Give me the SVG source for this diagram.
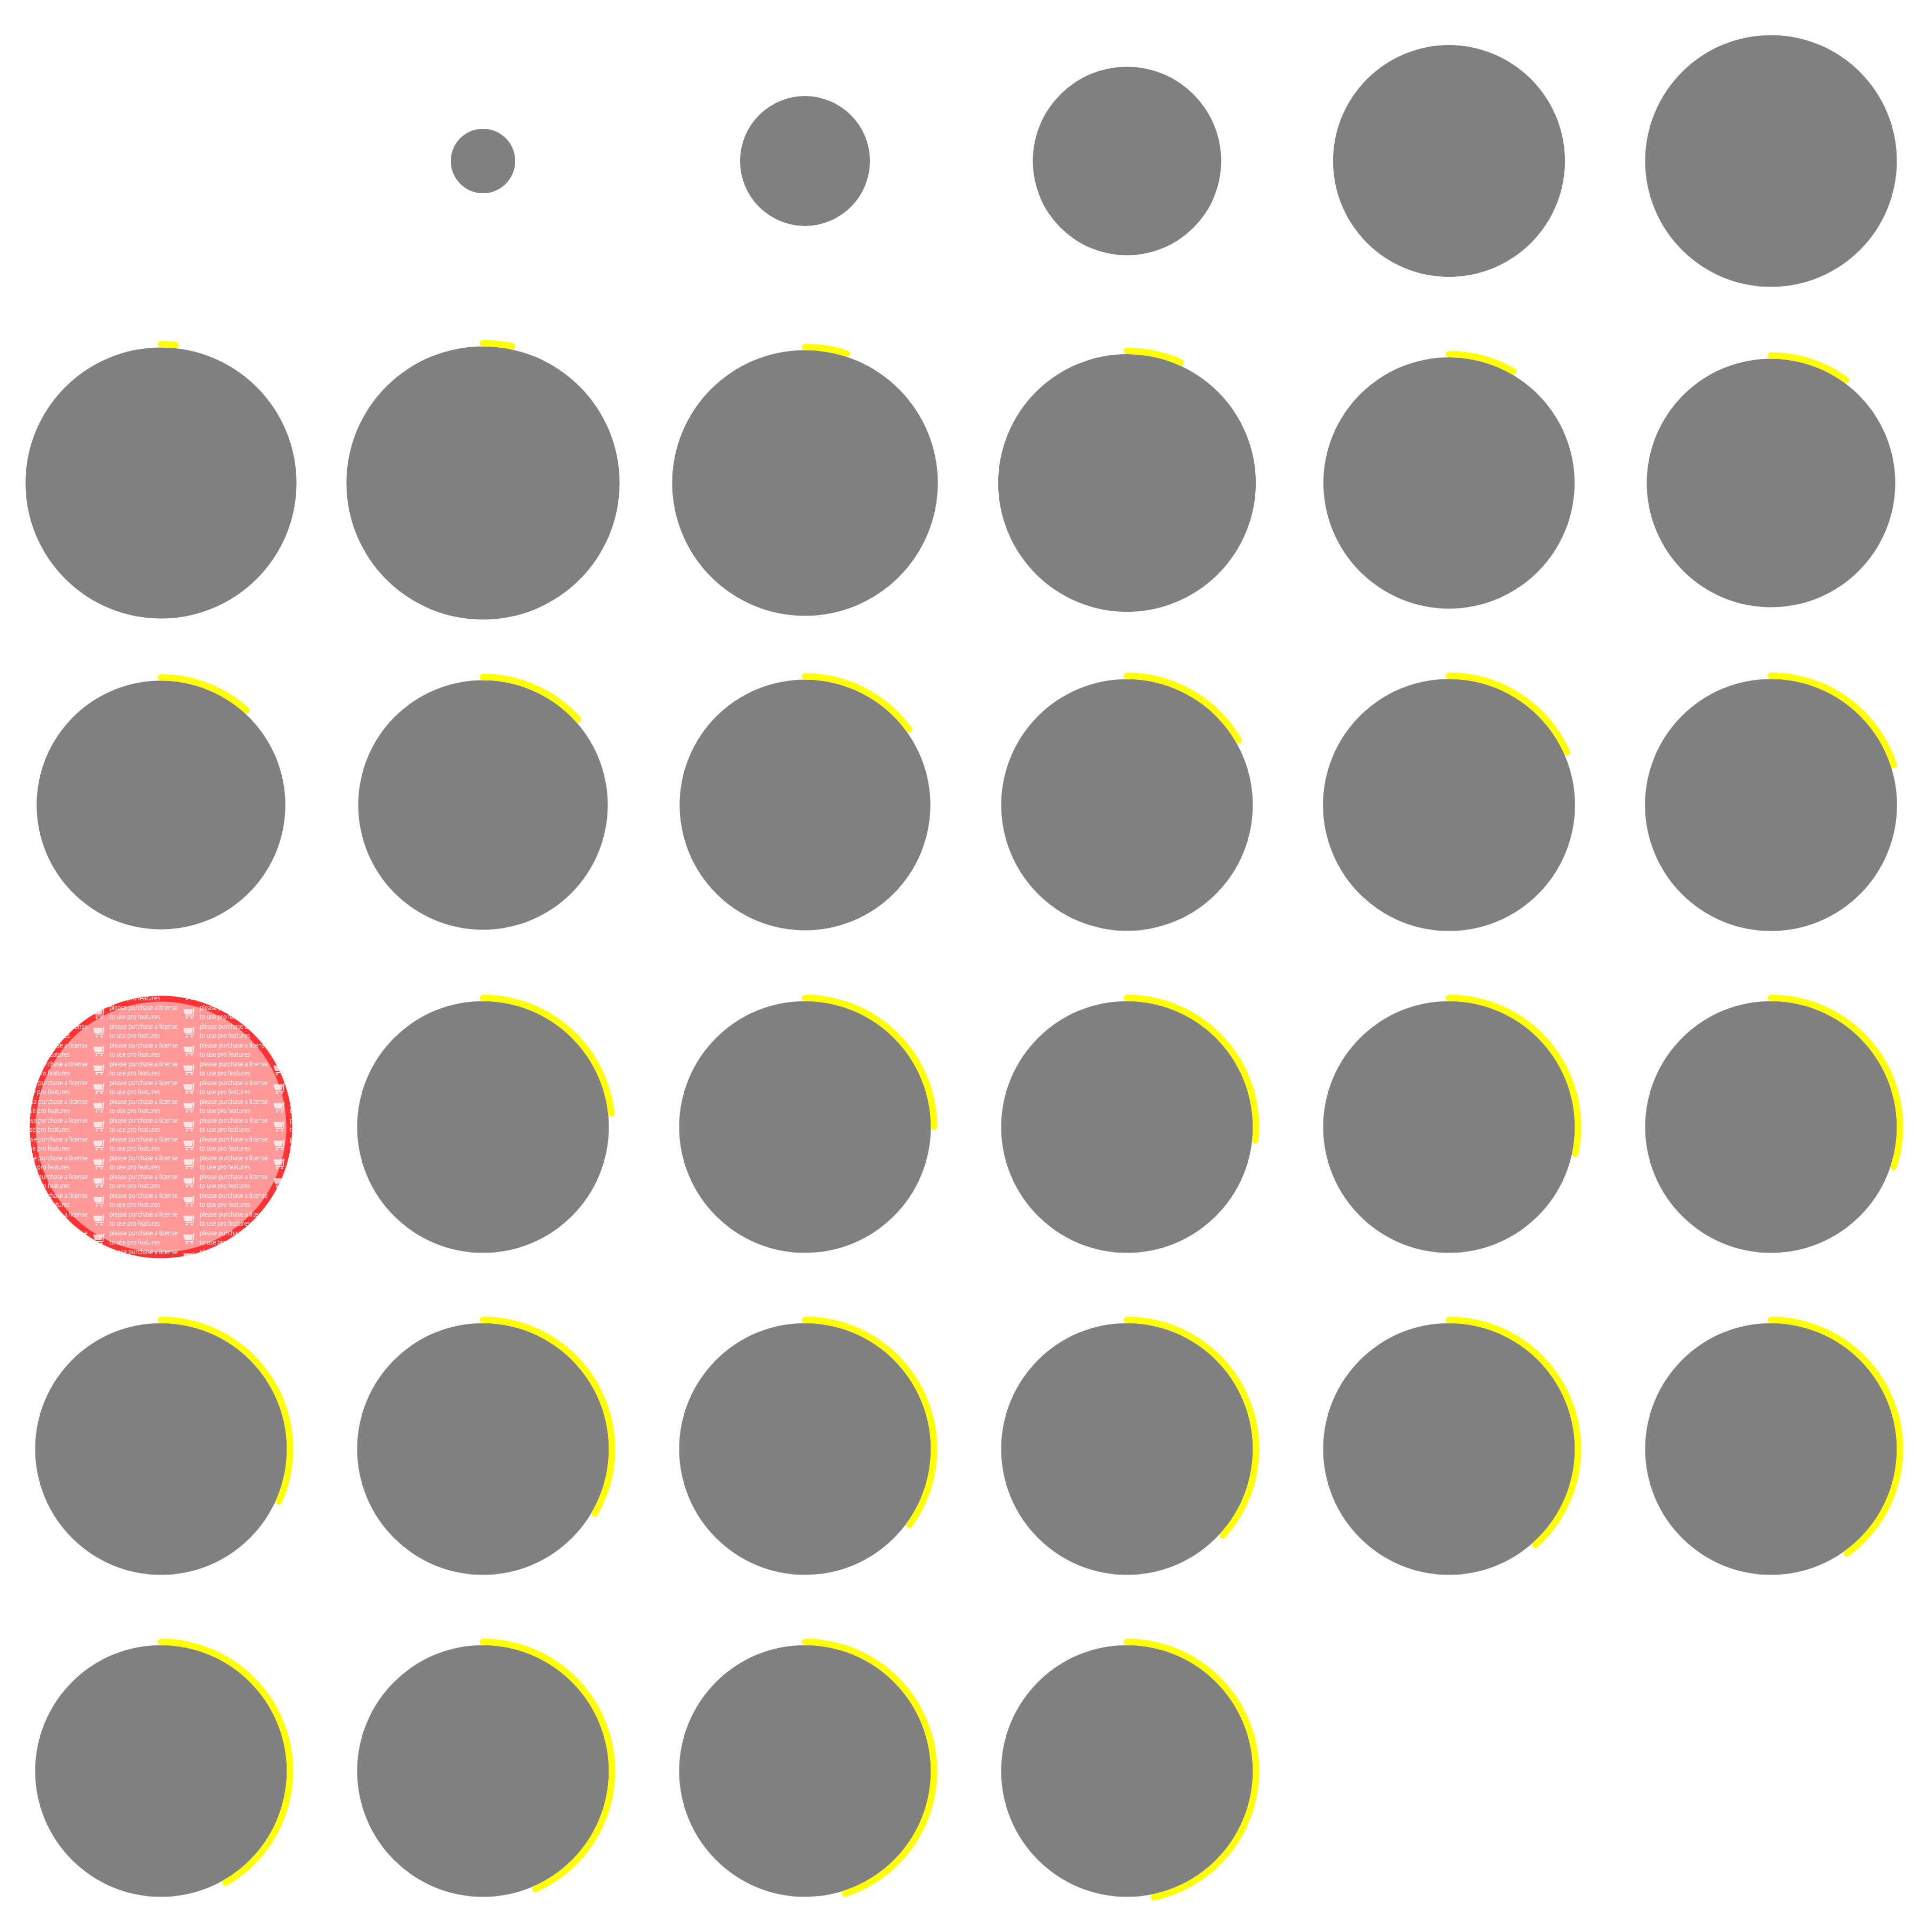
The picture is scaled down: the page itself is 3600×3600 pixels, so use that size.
<svg xmlns="http://www.w3.org/2000/svg" width="3600" height="3600" viewBox="0 0 3600 3600">
<style>
.disc{fill:#808080}
.arc{fill:none;stroke:#ffff00;stroke-width:12;stroke-linecap:round}
.wm{fill:#ffffff;font-family:"Open Sans","Noto Sans",sans-serif;font-size:12.5px}
</style>
<defs>
<clipPath id="wmclip"><circle cx="300" cy="2100" r="244.5"/></clipPath>
<pattern id="wmtile" patternUnits="userSpaceOnUse" x="170" y="1903" width="168" height="35">
<g fill="#ffffff" stroke="#ffffff">
<path d="M23.3,10.3 L21.7,25.3 L8,25.3" fill="none" stroke-width="1.4"/>
<polygon points="4.3,13 20.7,13 19,22 6.7,22" fill-opacity="0.75" stroke-width="0.8"/>
<circle cx="10" cy="28.7" r="1.6" stroke="none"/>
<circle cx="19.3" cy="28.7" r="1.6" stroke="none"/>
</g>
<text class="wm" x="34" y="14" textLength="127" lengthAdjust="spacingAndGlyphs">please purchase a license</text>
<text class="wm" x="34" y="31" textLength="94" lengthAdjust="spacingAndGlyphs">to use pro features</text>
</pattern>
</defs>
<rect width="3600" height="3600" fill="#ffffff"/>

<g id="frame-00"></g>
<g id="frame-01"><circle class="disc" cx="900" cy="300" r="60"/></g>
<g id="frame-02"><circle class="disc" cx="1500" cy="300" r="121"/></g>
<g id="frame-03"><circle class="disc" cx="2100" cy="300" r="175.5"/></g>
<g id="frame-04"><circle class="disc" cx="2700" cy="300" r="216"/></g>
<g id="frame-05"><circle class="disc" cx="3300" cy="300" r="234.5"/></g>

<g id="frame-06"><circle class="disc" cx="300" cy="900" r="252.5"/><path class="arc" d="M300,641.5 A258.5,258.5 0 0 1 327.02,642.92"/></g>
<g id="frame-07"><circle class="disc" cx="900" cy="900" r="254.5"/><path class="arc" d="M900,639.5 A260.5,260.5 0 0 1 954.16,645.19"/></g>
<g id="frame-08"><circle class="disc" cx="1500" cy="900" r="247.5"/><path class="arc" d="M1500,646.5 A253.5,253.5 0 0 1 1578.34,658.91"/></g>
<g id="frame-09"><circle class="disc" cx="2100" cy="900" r="240"/><path class="arc" d="M2100,654 A246,246 0 0 1 2200.06,675.27"/></g>
<g id="frame-10"><circle class="disc" cx="2700" cy="900" r="234"/><path class="arc" d="M2700,660 A240,240 0 0 1 2820,692.15"/></g>
<g id="frame-11"><circle class="disc" cx="3300" cy="900" r="231.5"/><path class="arc" d="M3300,662.5 A237.5,237.5 0 0 1 3439.6,707.86"/></g>

<g id="frame-12"><circle class="disc" cx="300" cy="1500" r="231.7"/><path class="arc" d="M300,1262.3 A237.7,237.7 0 0 1 459.05,1323.35"/></g>
<g id="frame-13"><circle class="disc" cx="900" cy="1500" r="232.5"/><path class="arc" d="M900,1261.5 A238.5,238.5 0 0 1 1077.24,1340.41"/></g>
<g id="frame-14"><circle class="disc" cx="1500" cy="1500" r="233.6"/><path class="arc" d="M1500,1260.4 A239.6,239.6 0 0 1 1693.84,1359.17"/></g>
<g id="frame-15"><circle class="disc" cx="2100" cy="1500" r="234.4"/><path class="arc" d="M2100,1259.6 A240.4,240.4 0 0 1 2308.19,1379.8"/></g>
<g id="frame-16"><circle class="disc" cx="2700" cy="1500" r="234.8"/><path class="arc" d="M2700,1259.2 A240.8,240.8 0 0 1 2919.98,1402.06"/></g>
<g id="frame-17"><circle class="disc" cx="3300" cy="1500" r="234.8"/><path class="arc" d="M3300,1259.2 A240.8,240.8 0 0 1 3529.01,1425.59"/></g>

<g id="frame-18-watermark">
<circle cx="300" cy="2100" r="239" fill="#ff9999" stroke="#ff3333" stroke-width="11"/>
<rect x="40" y="1840" width="520" height="520" fill="url(#wmtile)" clip-path="url(#wmclip)"/>
</g>
<g id="frame-19"><circle class="disc" cx="900" cy="2100" r="234.5"/><path class="arc" d="M900,1859.5 A240.5,240.5 0 0 1 1139.18,2074.86"/></g>
<g id="frame-20"><circle class="disc" cx="1500" cy="2100" r="234.5"/><path class="arc" d="M1500,1859.5 A240.5,240.5 0 0 1 1740.5,2100"/></g>
<g id="frame-21"><circle class="disc" cx="2100" cy="2100" r="234.5"/><path class="arc" d="M2100,1859.5 A240.5,240.5 0 0 1 2339.18,2125.14"/></g>
<g id="frame-22"><circle class="disc" cx="2700" cy="2100" r="234.5"/><path class="arc" d="M2700,1859.5 A240.5,240.5 0 0 1 2935.25,2150"/></g>
<g id="frame-23"><circle class="disc" cx="3300" cy="2100" r="234.5"/><path class="arc" d="M3300,1859.5 A240.5,240.5 0 0 1 3528.73,2174.32"/></g>

<g id="frame-24"><circle class="disc" cx="300" cy="2700" r="234.5"/><path class="arc" d="M300,2459.5 A240.5,240.5 0 0 1 519.71,2797.82"/></g>
<g id="frame-25"><circle class="disc" cx="900" cy="2700" r="234.5"/><path class="arc" d="M900,2459.5 A240.5,240.5 0 0 1 1108.28,2820.25"/></g>
<g id="frame-26"><circle class="disc" cx="1500" cy="2700" r="234.5"/><path class="arc" d="M1500,2459.5 A240.5,240.5 0 0 1 1694.57,2841.36"/></g>
<g id="frame-27"><circle class="disc" cx="2100" cy="2700" r="234.5"/><path class="arc" d="M2100,2459.5 A240.5,240.5 0 0 1 2278.73,2860.93"/></g>
<g id="frame-28"><circle class="disc" cx="2700" cy="2700" r="234.5"/><path class="arc" d="M2700,2459.5 A240.5,240.5 0 0 1 2860.93,2878.73"/></g>
<g id="frame-29"><circle class="disc" cx="3300" cy="2700" r="234.5"/><path class="arc" d="M3300,2459.5 A240.5,240.5 0 0 1 3441.36,2894.57"/></g>

<g id="frame-30"><circle class="disc" cx="300" cy="3300" r="234.5"/><path class="arc" d="M300,3059.5 A240.5,240.5 0 0 1 420.25,3508.28"/></g>
<g id="frame-31"><circle class="disc" cx="900" cy="3300" r="234.5"/><path class="arc" d="M900,3059.5 A240.5,240.5 0 0 1 997.82,3519.71"/></g>
<g id="frame-32"><circle class="disc" cx="1500" cy="3300" r="234.5"/><path class="arc" d="M1500,3059.5 A240.5,240.5 0 0 1 1574.32,3528.73"/></g>
<g id="frame-33"><circle class="disc" cx="2100" cy="3300" r="234.5"/><path class="arc" d="M2100,3059.5 A240.5,240.5 0 0 1 2150,3535.25"/></g>
</svg>
